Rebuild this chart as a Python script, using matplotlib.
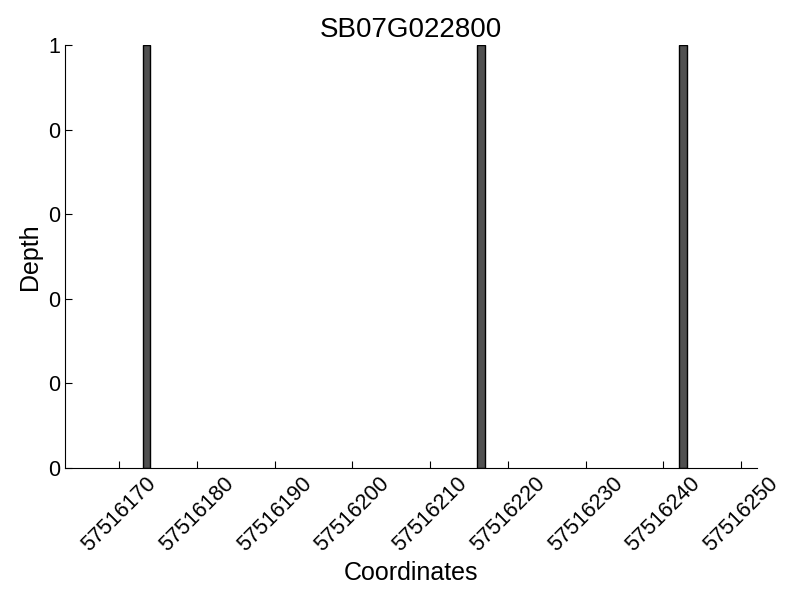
import numpy as np
import matplotlib
matplotlib.use("Agg")
import matplotlib.pyplot as plt

plt.rcParams['font.family'] = ['Liberation Sans', 'DejaVu Sans']

gene = "SB07G022800"
positions = [57516173, 57516216, 57516242]
depth = [1, 1, 1]
x_min, x_max = 57516163, 57516252
x_ticks = np.arange(57516170, 57516251, 10)
y_ticks = [0, 0.2, 0.4, 0.6, 0.8, 1.0]

fig = plt.figure(figsize=(8, 6), dpi=100)
ax = fig.add_axes([0.081, 0.22, 0.865, 0.705])
ax.bar(positions, depth, width=1, align='edge', color="#505050", edgecolor="black", linewidth=1)
ax.set_xlim(x_min, x_max)
ax.set_ylim(0, 1)
ax.set_xticks(x_ticks)
ax.set_xticklabels([str(t) for t in x_ticks], rotation=45, ha='center', fontsize=15.5)
ax.set_yticks(y_ticks)
ax.set_yticklabels(["%d" % v for v in y_ticks], fontsize=15.5)
ax.tick_params(direction='in', length=5)
ax.spines['top'].set_visible(False)
ax.spines['right'].set_visible(False)
ax.set_xlabel("Coordinates", fontsize=18)
ax.set_ylabel("Depth", fontsize=18)
ax.set_title(gene, fontsize=20)
fig.savefig("out.png", dpi=100)
